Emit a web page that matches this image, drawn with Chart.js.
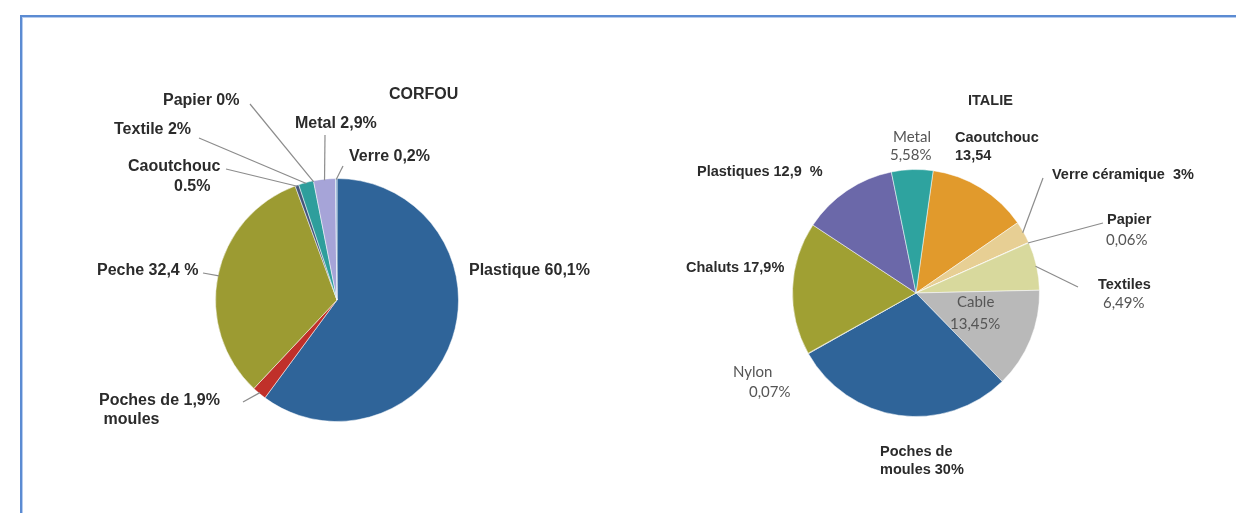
<!DOCTYPE html>
<html>
<head>
<meta charset="utf-8">
<script src="https://cdn.jsdelivr.net/npm/chart.js@4.4.0/dist/chart.umd.min.js"></script>
<style>
  body { margin: 0; background: #fff; }
  .page { position: relative; width: 1236px; height: 513px; overflow: hidden; background: #fff; }
  .frame {
    position: absolute; left: 20px; top: 15px; width: 1400px; height: 700px;
    border-top: 2px solid #5b8bd2; border-left: 2px solid #5b8bd2;
    box-shadow: inset 1px 1px 0 #b6ccee;
  }
  canvas { position: absolute; left: 0; top: 0; }
</style>
</head>
<body>
<div class="page">
  <div class="frame"></div>
  <canvas id="corfouChart" width="1236" height="513"></canvas>
  <canvas id="italieChart" width="1236" height="513"></canvas>
</div>
<script>
// CORFOU
const corfouLabels = ["Plastique", "Poches de moules", "Peche", "Caoutchouc", "Textile", "Papier", "Metal", "Verre"];
const corfouValues = [60.1, 1.9, 32.4, 0.5, 2, 0, 2.9, 0.2];
const corfouText = [
  ["Plastique 60,1%"], ["Poches de 1,9%", " moules"], ["Peche 32,4 %"], ["Caoutchouc", "0.5%"],
  ["Textile 2%"], ["Papier 0%"], ["Metal 2,9%"], ["Verre 0,2%"]
];

// ITALIE
const italieLabels = ["Caoutchouc", "Verre céramique", "Papier", "Textiles", "Cable", "Poches de moules", "Nylon", "Chaluts", "Plastiques", "Metal"];
const italieValues = [13.54, 3, 0.06, 6.49, 13.45, 30, 0.07, 17.9, 12.9, 5.58];
const italieText = [
  ["Caoutchouc", "13,54"], ["Verre céramique  3%"], ["Papier", "0,06%"], ["Textiles", "6,49%"],
  ["Cable", "13,45%"], ["Poches de", "moules 30%"], ["Nylon", "0,07%"], ["Chaluts 17,9%"],
  ["Plastiques 12,9  %"], ["Metal", "5,58%"]
];

const corfouColors = ["#2f6499", "#c0302a", "#9c9b32", "#45557a", "#2e9e9c", "#cccccc", "#a6a4d8", "#7fa7d0"];
const italieColors = ["#e19a2c", "#e7cf94", "#dddddd", "#d8d99d", "#b9b9b9", "#2f6499", "#7f7f7f", "#a0a033", "#6b68a9", "#2ea39f"];

// where each label sits: one [x, y, style] per text row, plus the end of its leader line
const corfouPlace = [
  { rows: [[469, 271, "b"]] },
  { rows: [[99, 401, "b"], [99, 420, "b"]], line: [243, 402] },
  { rows: [[97, 271, "b"]], line: [203, 273] },
  { rows: [[128, 167, "b"], [174, 187, "b"]], line: [226, 169] },
  { rows: [[114, 130, "b"]], line: [199, 138] },
  { rows: [[163, 101, "b"]], line: [250, 104] },
  { rows: [[295, 124, "b"]], line: [325, 135] },
  { rows: [[349, 157, "b"]], line: [343, 166] }
];
const italiePlace = [
  { rows: [[955, 138, "b"], [955, 156, "b"]] },
  { rows: [[1052, 175, "b"]], line: [1043, 178] },
  { rows: [[1107, 220, "b"], [1106, 240, "r"]], line: [1103, 223] },
  { rows: [[1098, 285, "b"], [1103, 303, "r"]], line: [1078, 287] },
  { rows: [[957, 302, "r"], [950, 324, "r"]] },
  { rows: [[880, 452, "b"], [880, 470, "b"]] },
  { rows: [[733, 372, "r"], [749, 392, "r"]] },
  { rows: [[686, 268, "b"]] },
  { rows: [[697, 172, "b"]] },
  { rows: [[893, 137, "r"], [890, 155, "r"]] }
];

// draws the title, slice labels and leader lines after the pie
const sliceLabels = {
  id: "sliceLabels",
  afterDraw(chart, args, opts) {
    const ctx = chart.ctx;
    const arcs = chart.getDatasetMeta(0).data;
    ctx.save();
    ctx.textBaseline = "middle";
    ctx.textAlign = "left";
    ctx.font = opts.boldFont;
    ctx.fillStyle = "#2b2b2b";
    ctx.fillText(opts.title[0], opts.title[1], opts.title[2]);
    opts.place.forEach((pl, i) => {
      if (pl.line) {
        const p = arcs[i].getProps(["x", "y", "startAngle", "endAngle", "outerRadius"], true);
        const a = (p.startAngle + p.endAngle) / 2;
        const r = p.outerRadius - 1;
        ctx.beginPath();
        ctx.moveTo(p.x + Math.cos(a) * r, p.y + Math.sin(a) * r);
        ctx.lineTo(pl.line[0], pl.line[1]);
        ctx.strokeStyle = "#8c8c8c";
        ctx.lineWidth = 1.2;
        ctx.stroke();
      }
      pl.rows.forEach((row, k) => {
        ctx.font = row[2] === "b" ? opts.boldFont : opts.plainFont;
        ctx.fillStyle = row[2] === "b" ? "#2b2b2b" : "#555555";
        ctx.fillText(opts.text[i][k], row[0], row[1]);
      });
    });
    ctx.restore();
  }
};

function pieChart(id, labels, values, colors, pad, labelOpts) {
  return new Chart(document.getElementById(id), {
    type: "pie",
    data: {
      labels: labels,
      datasets: [{
        data: values,
        backgroundColor: colors,
        borderColor: "rgba(255,255,255,0.5)",
        borderWidth: 1
      }]
    },
    options: {
      responsive: false,
      animation: false,
      rotation: labelOpts.rotation,
      layout: { padding: pad },
      plugins: {
        legend: { display: false },
        tooltip: { enabled: false },
        sliceLabels: labelOpts
      }
    },
    plugins: [sliceLabels]
  });
}

pieChart("corfouChart", corfouLabels, corfouValues, corfouColors,
  { left: 215, right: 777, top: 178, bottom: 91 },
  {
    rotation: 0, text: corfouText, place: corfouPlace,
    title: ["CORFOU", 389, 95],
    boldFont: 'bold 16px "Liberation Sans", Arial, sans-serif',
    plainFont: '16px Lato, sans-serif'
  });

pieChart("italieChart", italieLabels, italieValues, italieColors,
  { left: 792, right: 196, top: 169, bottom: 96 },
  {
    rotation: 8, text: italieText, place: italiePlace,
    title: ["ITALIE", 968, 101],
    boldFont: 'bold 14.5px "Liberation Sans", Arial, sans-serif',
    plainFont: '15px Lato, sans-serif'
  });
</script>
</body>
</html>
